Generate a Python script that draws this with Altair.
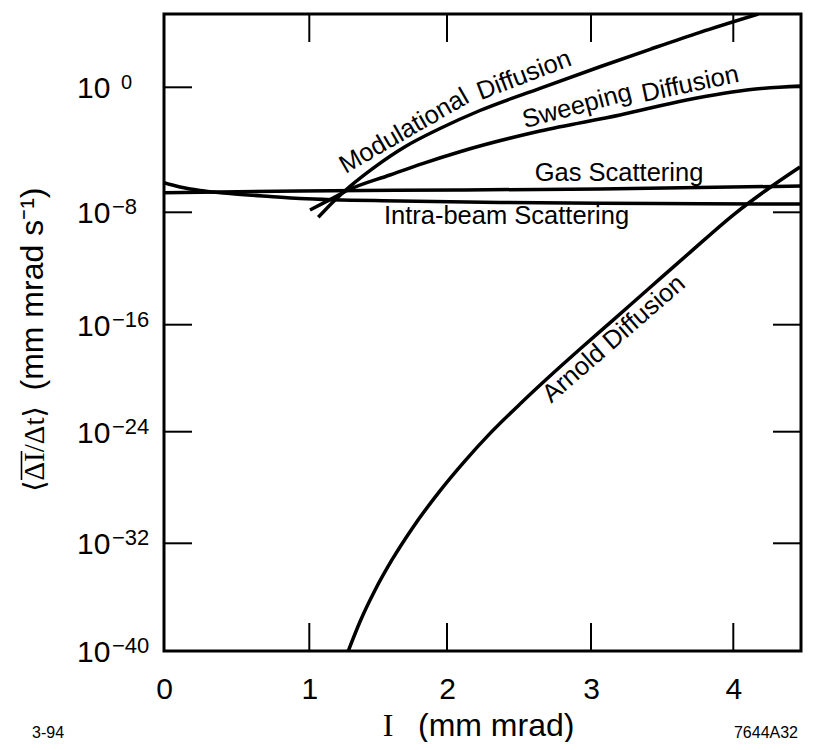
import altair as alt
import pandas as pd

# ---------------- data (x in mm mrad, y as log10 of <dI/dt>) ----------------
gas_x = [0.0, 0.936, 2.090, 3.063, 4.476]
gas_y = [-6.745, -6.64, -6.57, -6.51, -6.32]

intra_x = [0.0, 0.110, 0.248, 0.454, 0.730, 0.936, 1.659, 2.368, 3.063, 3.766, 4.476]
intra_y = [-6.106, -6.381, -6.605, -6.797, -6.989, -7.117, -7.277, -7.373, -7.424, -7.45, -7.469]

mod_x = [1.065, 1.172, 1.296, 1.477, 1.695, 1.949, 2.229, 2.646, 3.063, 3.415, 3.766, 4.176]
mod_y = [-8.356, -7.334, -6.336, -5.088, -3.802, -2.637, -1.485, -0.064, 1.318, 2.438, 3.526, 4.70]

sweep_x = [1.005, 1.150, 1.283, 1.586, 1.828, 2.090, 2.646, 3.204, 3.672, 4.140, 4.476]
sweep_y = [-7.853, -7.187, -6.573, -5.613, -4.864, -4.122, -2.797, -1.773, -0.813, -0.128, 0.083]

arnold_x = [1.283, 1.368, 1.477, 1.601, 1.746, 1.949, 2.125, 2.299, 2.507, 2.715,
            2.924, 3.155, 3.415, 3.696, 4.012, 4.258, 4.469]
arnold_y = [-40.0, -37.83, -35.49, -33.22, -30.95, -28.24, -26.09, -24.12, -21.93, -19.84,
            -17.82, -15.67, -13.35, -10.85, -8.09, -6.41, -5.10]

x_tick_values = [0, 1, 2, 3, 4]
x_inner_ticks = [1, 2, 3, 4]
y_tick_values = [0, -8, -16, -24, -32, -40]
y_inner_ticks = [0, -8, -16, -24, -32]
y_tick_base = ["10", "10", "10", "10", "10", "10"]
y_tick_exp = ["0", "\u22128", "\u221216", "\u221224", "\u221232", "\u221240"]

ann_text = ["Modulational", "Diffusion", "Sweeping", "Diffusion",
            "Gas Scattering", "Intra-beam Scattering", "Arnold Diffusion"]
ann_x = [1.688, 2.535, 2.903, 3.696, 3.197, 2.413, 3.159]
ann_y = [-2.797, 0.787, -1.197, 0.211, -5.453, -8.228, -17.054]
ann_angle = [330, 339, 345, 348, 0, 0, 319]

# ---------------- tables ----------------
rows = []
for name, xs_, ys_ in [("Gas Scattering", gas_x, gas_y),
                       ("Intra-beam Scattering", intra_x, intra_y),
                       ("Modulational Diffusion", mod_x, mod_y),
                       ("Sweeping Diffusion", sweep_x, sweep_y),
                       ("Arnold Diffusion", arnold_x, arnold_y)]:
    for a, b in zip(xs_, ys_):
        rows.append({"series": name, "x": a, "y": b})
lines_df = pd.DataFrame(rows)

W, H = 637, 637
SANS = "Liberation Sans, Arial, Helvetica, sans-serif"
SERIF = "Liberation Serif, Times New Roman, DejaVu Serif, serif"

# the hand-drawn axes of the original are slightly irregular: piecewise scales
xs = alt.Scale(domain=[0, 1, 2, 3, 4, 4.476], range=[0, 145.3, 283, 427, 569.3, W], nice=False, zero=False)
ys = alt.Scale(domain=[-40, -32, -24, -16, -8, 0, 4.7], range=[H, 529.3, 417.7, 310.7, 198.3, 73.3, 0],
               nice=False, zero=False)

x_axis = alt.Axis(values=x_tick_values, format="d", labelFontSize=30, labelFont=SANS, labelColor="black",
                  ticks=False, tickSize=0, domain=False, grid=False, labelPadding=23, labelFlush=False,
                  title=None)

lines = alt.Chart(lines_df).mark_line(strokeWidth=3.5, color="black", interpolate="monotone", clip=True).encode(
    x=alt.X("x:Q", scale=xs, axis=x_axis),
    y=alt.Y("y:Q", scale=ys, axis=None),
    detail="series:N",
)

xt_df = pd.DataFrame({"x": x_inner_ticks})
yt_df = pd.DataFrame({"y": y_inner_ticks})
bottom_ticks = alt.Chart(xt_df).mark_rule(strokeWidth=2, color="black").encode(
    x=alt.X("x:Q", scale=xs), y=alt.value(H), y2=alt.value(H - 28))
top_ticks = alt.Chart(xt_df).mark_rule(strokeWidth=2, color="black").encode(
    x=alt.X("x:Q", scale=xs), y=alt.value(0), y2=alt.value(28))
left_ticks = alt.Chart(yt_df).mark_rule(strokeWidth=2, color="black").encode(
    y=alt.Y("y:Q", scale=ys), x=alt.value(0), x2=alt.value(28))
right_ticks = alt.Chart(yt_df).mark_rule(strokeWidth=2, color="black").encode(
    y=alt.Y("y:Q", scale=ys), x=alt.value(W), x2=alt.value(W - 28))

ylab_df = pd.DataFrame({"y": y_tick_values, "base": y_tick_base, "exp": y_tick_exp})
ylab_base = alt.Chart(ylab_df).mark_text(fontSize=30, font=SANS, align="left", baseline="alphabetic",
                                         dy=11, color="black").encode(
    y=alt.Y("y:Q", scale=ys), x=alt.value(-87), text="base:N")
ylab_exp_neg = alt.Chart(ylab_df).transform_filter("datum.y < 0").mark_text(
    fontSize=22, font=SANS, align="left", baseline="alphabetic", dy=2, color="black").encode(
    y=alt.Y("y:Q", scale=ys), x=alt.value(-52), text="exp:N")
ylab_exp_zero = alt.Chart(ylab_df).transform_filter("datum.y == 0").mark_text(
    fontSize=20, font=SANS, align="left", baseline="alphabetic", dy=2, color="black").encode(
    y=alt.Y("y:Q", scale=ys), x=alt.value(-43), text="exp:N")

ann_df = pd.DataFrame({"x": ann_x, "y": ann_y, "t": ann_text, "a": ann_angle})
ann = alt.Chart(ann_df).mark_text(fontSize=25.5, font=SANS, align="center", baseline="middle",
                                  color="black").encode(
    x=alt.X("x:Q", scale=xs), y=alt.Y("y:Q", scale=ys), text="t:N",
    angle=alt.Angle("a:Q", scale=None))

def label(txt, x, y, size, font, align="center", angle=0):
    return alt.Chart(pd.DataFrame({"t": [txt]})).mark_text(
        fontSize=size, font=font, align=align, baseline="alphabetic", angle=angle, color="black").encode(
        x=alt.value(x), y=alt.value(y), text="t:N")

ytitle1 = label("\u27e8\u0394I/\u0394t\u27e9", -120, 435, 29, SERIF, angle=270)
ytitle_bar = alt.Chart(pd.DataFrame({"t": [0]})).mark_rule(strokeWidth=1.6, color="black").encode(
    x=alt.value(-142.5), y=alt.value(437), y2=alt.value(466))
ytitle2 = label("(mm mrad s\u207b\u00b9)", -121, 275, 32, SANS, angle=270)
xtitle1 = label("I", 224, 722, 32, SERIF)
xtitle2 = label("(mm mrad)", 254, 722, 32, SANS, align="left")
note_left = label("3-94", -132, 724, 16, SANS, align="left")
note_right = label("7644A32", 634, 724, 16, SANS, align="right")

chart = alt.layer(
    lines, bottom_ticks, top_ticks, left_ticks, right_ticks,
    ylab_base, ylab_exp_neg, ylab_exp_zero, ann,
    ytitle1, ytitle_bar, ytitle2, xtitle1, xtitle2, note_left, note_right,
).properties(
    width=W, height=H,
    autosize=alt.AutoSizeParams(type="none"),
    padding={"left": 156, "top": 6, "right": 4, "bottom": 91},
    background="white",
).configure_view(stroke="black", strokeWidth=3)

chart.save("out.html", embed_options={"renderer": "svg", "actions": False})
